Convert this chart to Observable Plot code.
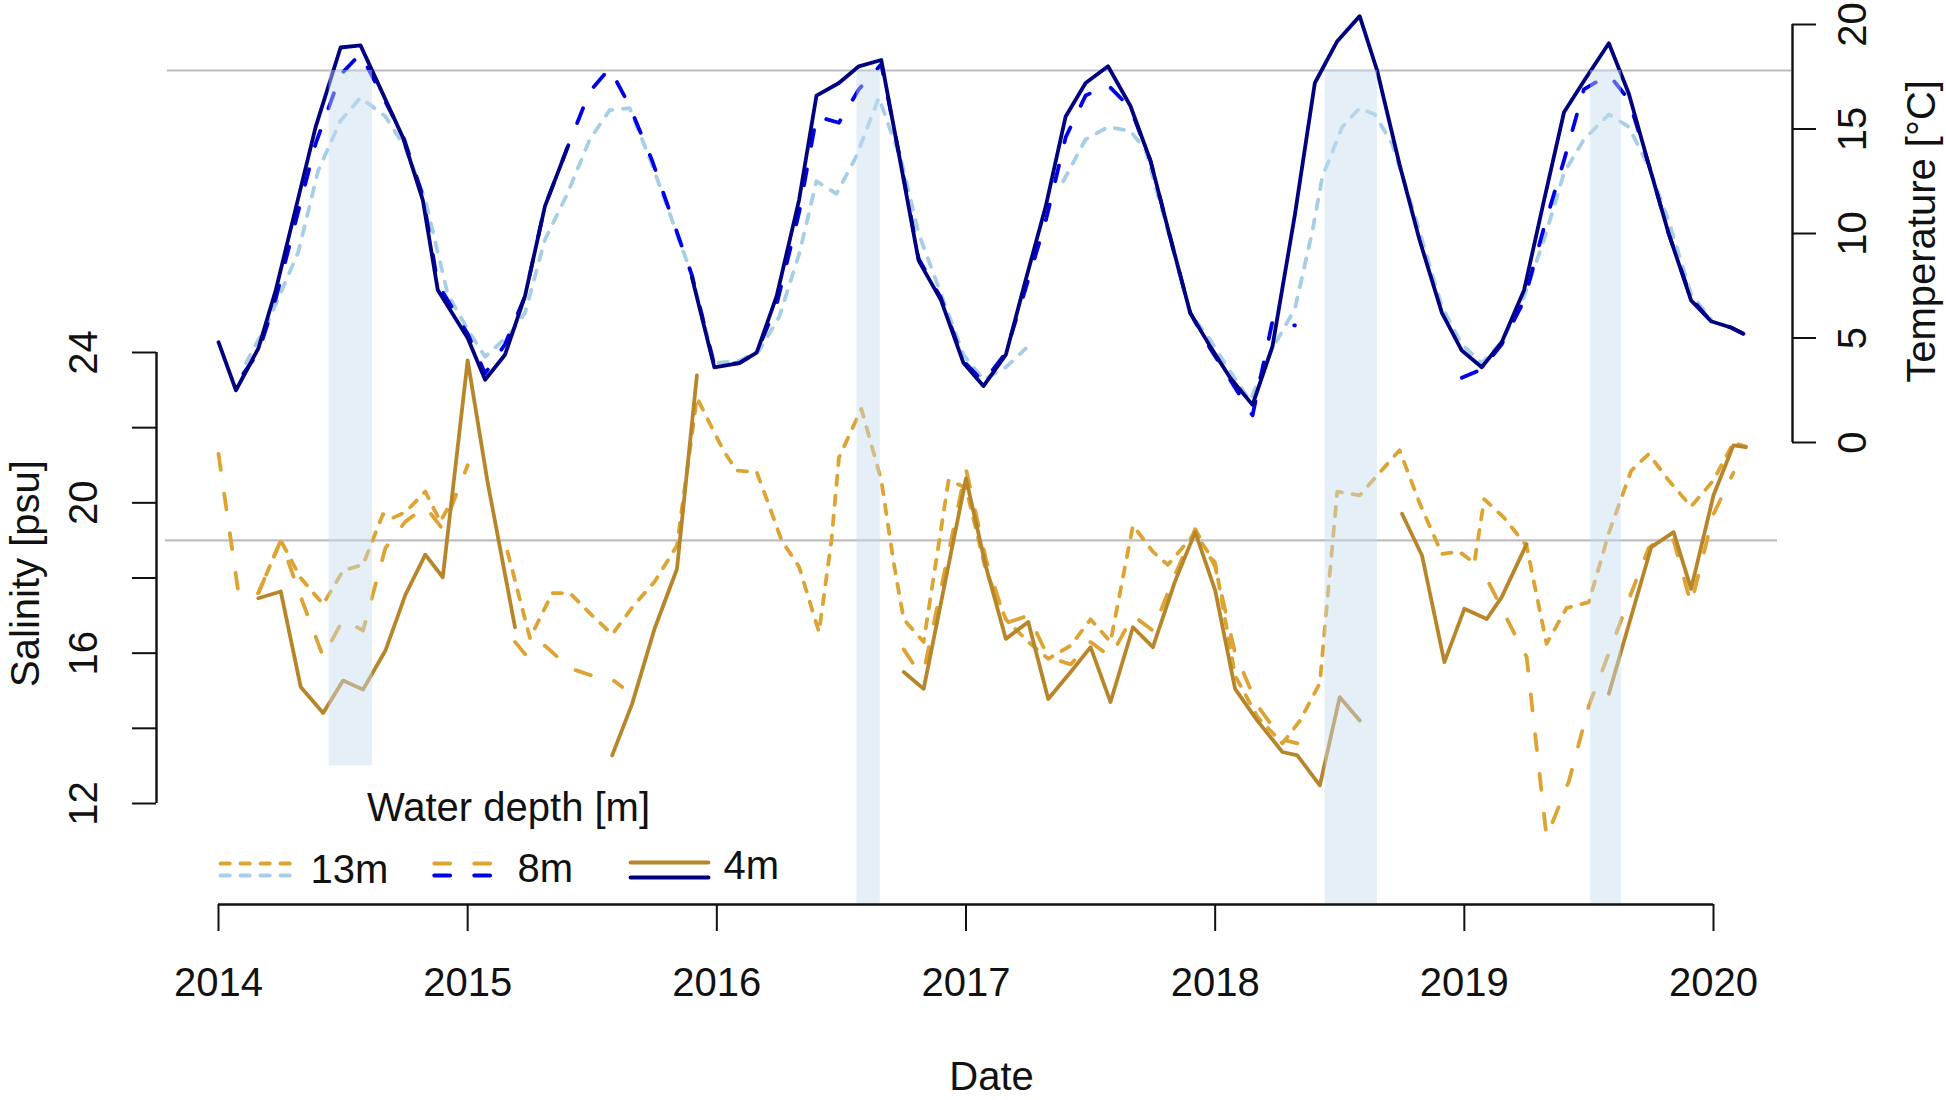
<!DOCTYPE html>
<html>
<head>
<meta charset="utf-8">
<script src="https://cdn.jsdelivr.net/npm/d3@7"></script>
<script src="https://cdn.jsdelivr.net/npm/@observablehq/plot@0.6"></script>
<style>
  html, body { margin: 0; padding: 0; background: #fff; }
</style>
</head>
<body>
<div id="chart"></div>
<script>
// ---------------- DATA ----------------
const years = [2014, 2015, 2016, 2017, 2018, 2019, 2020];
const salinityTicks = [12, 14, 16, 18, 20, 22, 24];
const salinityLabels = [12, 16, 20, 24];
const temperatureTicks = [0, 5, 10, 15, 20];
const depthLabels = ["13m", "8m", "4m"];

const salinityThreshold = 19;     // psu (grey line)
const temperatureThreshold = 17.8; // °C (grey line)

const bandStart = [2014.444, 2016.562, 2018.441, 2019.507];
const bandEnd   = [2014.618, 2016.656, 2018.651, 2019.630];
const bandBottomSalinity = [13, null, null, null];

// [decimal year, temperature °C]; null = gap
const temp4m = [
  [2014.00,4.8],[2014.07,2.5],[2014.16,4.5],[2014.23,7.3],[2014.31,11.2],[2014.39,15.1],[2014.49,18.9],[2014.57,19.0],
  [2014.74,14.6],[2014.82,11.6],[2014.88,7.3],[2015.00,5.0],[2015.07,3.0],[2015.15,4.2],[2015.23,7.0],[2015.31,11.3],[2015.40,14.1],
  [2015.65,null],
  [2015.90,7.9],[2015.99,3.6],[2016.09,3.8],[2016.16,4.3],[2016.24,7.0],[2016.33,11.6],[2016.40,16.6],[2016.49,17.2],[2016.57,18.0],
  [2016.66,18.3],[2016.74,13.2],[2016.81,8.7],[2016.90,6.8],[2016.99,3.8],[2017.07,2.7],[2017.16,4.2],[2017.24,7.8],[2017.32,11.3],
  [2017.40,15.6],[2017.48,17.2],[2017.57,18.0],[2017.66,16.1],[2017.74,13.5],[2017.82,9.8],[2017.90,6.2],[2017.98,4.6],[2018.06,3.1],
  [2018.15,1.8],[2018.23,4.6],[2018.32,10.9],[2018.40,17.2],[2018.49,19.2],[2018.58,20.4],[2018.65,17.8],[2018.74,13.3],[2018.82,9.7],
  [2018.91,6.2],[2018.99,4.4],[2019.07,3.6],[2019.15,4.8],[2019.24,7.3],[2019.32,11.6],[2019.40,15.8],[2019.48,17.3],[2019.58,19.1],
  [2019.66,16.7],[2019.74,13.3],[2019.82,10.0],[2019.91,6.8],[2019.99,5.8],[2020.07,5.5],[2020.12,5.2]
];
const temp8m = [
  [2014.10,3.3],[2014.16,4.3],[2014.23,6.9],[2014.31,10.6],[2014.39,14.3],[2014.49,17.6],[2014.57,18.6],[2014.74,14.7],
  [2014.82,11.8],[2014.88,7.6],[2015.00,5.2],[2015.07,3.3],[2015.15,4.7],[2015.23,7.0],[2015.31,11.3],[2015.40,14.1],[2015.49,16.8],
  [2015.57,17.9],[2015.65,16.1],[2015.74,13.5],[2015.90,8.0],[2015.99,3.7],[2016.09,3.8],[2016.16,4.3],[2016.24,6.6],[2016.33,11.0],
  [2016.40,15.6],[2016.49,15.3],[2016.57,16.9],[2016.66,18.1],[2016.74,13.3],[2016.81,8.8],[2016.90,6.9],[2016.99,3.9],[2017.07,2.9],
  [2017.16,4.3],[2017.24,7.4],[2017.32,10.6],[2017.40,14.6],[2017.48,16.6],[2017.57,17.1],[2017.66,16.0],[2017.74,13.5],[2017.82,9.8],
  [2017.90,6.2],[2017.98,4.5],[2018.06,3.0],[2018.15,1.3],[2018.23,5.8],[2018.32,5.6],
  [2018.60,null],
  [2018.99,3.1],[2019.07,3.5],[2019.15,4.7],[2019.24,6.8],[2019.32,10.3],[2019.40,13.5],[2019.48,16.9],[2019.58,17.6],[2019.66,16.4],
  [2019.74,13.3],[2019.82,10.0],[2019.91,6.9],[2019.99,5.8],[2020.07,5.5],[2020.12,5.2]
];
const temp13m = [
  [2014.11,3.8],[2014.20,5.8],[2014.32,9.1],[2014.40,13.0],[2014.49,15.4],[2014.57,16.5],[2014.67,15.6],[2014.75,14.1],[2014.83,11.6],
  [2014.92,7.1],[2015.00,5.4],[2015.07,4.1],[2015.17,5.2],[2015.23,6.2],[2015.31,9.7],[2015.40,11.9],[2015.49,14.5],[2015.57,15.9],
  [2015.65,16.0],[2015.74,13.3],[2015.90,8.0],[2015.99,3.8],[2016.09,3.9],[2016.17,4.4],[2016.25,6.0],[2016.33,9.0],[2016.40,12.5],
  [2016.48,11.9],[2016.56,13.7],[2016.65,16.5],[2016.74,13.5],[2016.81,10.0],[2016.90,7.1],[2016.99,4.2],[2017.07,3.0],[2017.16,3.6],
  [2017.24,4.5],
  [2017.32,null],
  [2017.39,12.5],[2017.48,14.5],[2017.57,15.1],[2017.66,14.9],[2017.72,14.0],[2017.82,9.7],[2017.90,6.2],[2017.98,4.9],[2018.06,3.4],
  [2018.14,2.0],[2018.23,4.5],[2018.32,6.4],[2018.39,10.1],[2018.43,12.7],[2018.51,15.1],[2018.58,16.0],[2018.64,15.7],[2018.71,14.3],
  [2018.79,11.3],[2018.91,6.5],[2018.99,4.7],[2019.07,3.8],[2019.15,4.8],[2019.24,7.0],[2019.32,9.7],[2019.40,12.9],[2019.48,14.5],
  [2019.58,15.7],[2019.66,15.1],[2019.74,13.2],[2019.82,10.6],[2019.91,7.1],[2019.99,5.9]
];

// [decimal year, salinity psu]; null = gap
const sal4m = [
  [2014.16,17.46],[2014.25,17.64],[2014.33,15.10],[2014.42,14.41],[2014.50,15.27],[2014.58,15.03],[2014.67,16.07],[2014.75,17.55],
  [2014.83,18.62],[2014.90,18.02],[2015.00,23.79],[2015.08,20.55],[2015.19,16.69],
  [2015.40,null],
  [2015.58,13.28],[2015.66,14.65],[2015.75,16.65],[2015.84,18.24],[2015.92,23.39],
  [2016.30,null],
  [2016.75,15.5],[2016.83,15.05],[2017.00,20.65],[2017.08,18.3],[2017.16,16.38],[2017.25,16.83],[2017.33,14.78],[2017.42,15.5],
  [2017.50,16.16],[2017.58,14.7],[2017.67,16.69],[2017.75,16.16],[2017.84,17.93],[2017.92,19.22],[2018.00,17.67],[2018.08,15.05],
  [2018.17,14.2],[2018.27,13.37],[2018.33,13.28],[2018.42,12.48],[2018.50,14.83],[2018.58,14.21],
  [2018.66,null],
  [2018.75,19.71],[2018.83,18.6],[2018.92,15.76],[2019.00,17.18],[2019.09,16.91],[2019.15,17.49],[2019.25,18.9],
  [2019.40,null],
  [2019.58,14.92],[2019.75,18.82],[2019.84,19.22],[2019.91,17.71],[2020.00,20.2],[2020.08,21.53],[2020.13,21.48]
];
const sal8m = [
  [2014.00,21.3],[2014.08,17.6],[2014.16,17.6],[2014.25,19.0],[2014.33,17.5],[2014.42,15.9],[2014.50,16.9],[2014.58,16.6],
  [2014.67,18.8],[2014.75,19.5],[2014.83,19.9],[2014.90,19.3],[2015.00,21.0],
  [2015.10,null],
  [2015.19,16.3],[2015.24,15.9],[2015.31,16.2],[2015.41,15.6],[2015.50,15.4],[2015.58,15.3],[2015.62,15.1],
  [2016.20,null],
  [2016.75,16.1],[2016.79,15.7],[2016.83,15.5],[2017.00,20.9],[2017.08,18.5],[2017.16,16.8],[2017.25,17.0],[2017.33,15.9],
  [2017.42,15.7],[2017.50,16.3],[2017.58,15.9],[2017.67,17.0],[2017.75,16.6],[2017.84,18.1],[2017.92,19.3],[2018.00,18.3],
  [2018.08,16.0],[2018.17,14.6],[2018.27,13.7],[2018.33,13.6],
  [2018.70,null],
  [2019.10,17.85],[2019.21,16.4],[2019.25,15.9],[2019.33,11.1],[2019.42,12.6],[2019.50,14.6],[2019.58,16.0],[2019.67,17.6],
  [2019.74,18.8],[2019.80,19.1],[2019.84,19.0],[2019.91,17.3],[2020.00,19.7],[2020.08,20.8]
];
const sal13m = [
  [2014.16,17.6],[2014.25,19.0],[2014.33,18.0],[2014.42,17.3],[2014.50,18.2],[2014.58,18.35],[2014.66,19.7],[2014.70,19.6],
  [2014.75,19.75],[2014.83,20.3],[2014.89,19.5],[2014.95,20.2],
  [2015.10,null],
  [2015.16,18.7],[2015.25,16.4],[2015.34,17.6],[2015.41,17.6],[2015.50,17.0],[2015.58,16.5],[2015.67,17.3],[2015.75,17.9],
  [2015.84,18.86],[2015.92,22.8],[2015.98,22.0],[2016.03,21.35],[2016.08,20.86],[2016.16,20.82],[2016.20,20.1],[2016.26,19.0],
  [2016.33,18.3],[2016.41,16.56],[2016.46,19.0],[2016.49,21.2],[2016.58,22.5],[2016.66,20.6],[2016.71,18.4],[2016.75,16.9],
  [2016.83,16.3],[2016.93,20.6],[2017.00,20.4],[2017.08,18.2],[2017.16,16.9],[2017.25,16.3],[2017.33,15.85],[2017.42,16.2],
  [2017.50,16.9],[2017.58,16.3],[2017.67,19.4],[2017.75,18.7],[2017.81,18.35],[2017.92,19.2],[2018.00,18.4],[2018.08,15.4],
  [2018.17,14.3],[2018.27,13.6],[2018.34,14.2],[2018.42,15.2],[2018.49,20.3],[2018.58,20.2],[2018.66,20.8],[2018.74,21.4],
  [2018.82,20.0],[2018.91,18.64],[2018.98,18.7],[2019.04,18.4],[2019.08,20.1],[2019.16,19.6],[2019.25,18.85],[2019.33,16.25],
  [2019.41,17.2],[2019.50,17.36],[2019.58,19.2],[2019.67,20.86],[2019.74,21.3],[2019.82,20.6],[2019.91,19.9],[2020.00,20.6],
  [2020.08,21.6],[2020.13,21.5]
];

// ---------------- LAYOUT ----------------
const W = 1946, H = 1100;
const xs = d3.scaleLinear([2014, 2020], [218, 1713]);   // pixel calibration of x
const ys = d3.scaleLinear([12, 24], [803, 352]);        // pixel calibration of salinity
// temperature axis (right) shares the plot: 0°C at y=442px, 20°C at y=24px
const tempToSal = d3.scaleLinear([0, 20], [ys.invert(442), ys.invert(24)]);
const axisBottomPx = 904, leftAxisPx = 156, rightAxisPx = 1792;
const salAtAxis = ys.invert(axisBottomPx);

const C = {
  sal13: "#DDA434", sal8: "#DDA434", sal4: "#B8862A",
  t13: "#A6CFE6", t8: "#0000E8", t4: "#000080",
  grey: "#BEBEBE", band: "#C6DBEF", ink: "#111"
};
const LW = 3.8;
const dash13 = "9.3,10.7";
const dash8 = "16,24";
const FONT = "'Liberation Sans', Arial, Helvetica, sans-serif";

const tY = d => d[1] == null ? NaN : tempToSal(d[1]);
const sY = d => d[1] == null ? NaN : d[1];
const X = d => d[0];
const lineOpts = {strokeLinecap: "round", strokeLinejoin: "round", strokeWidth: LW};

// legend layout (pixels)
const legendSwatches = [
  {x1: 220, x2: 291, top: C.sal13, bottom: C.t13, dash: dash13, yTop: 863, yBot: 875},
  {x1: 433.7, x2: 491.3, top: C.sal8, bottom: C.t8, dash: dash8, yTop: 863, yBot: 875},
  {x1: 630, x2: 708, top: C.sal4, bottom: C.t4, dash: null, yTop: 862, yBot: 877}
];
const legendTextX = [310, 517, 723];
const legendTextY = [870, 869, 866];

const swatchLinks = [];
legendSwatches.forEach(s => {
  swatchLinks.push({x1: s.x1, x2: s.x2, y: s.yTop, stroke: s.top, dash: s.dash});
  swatchLinks.push({x1: s.x1, x2: s.x2, y: s.yBot, stroke: s.bottom, dash: s.dash});
});

const bandIdx = bandStart.map((_, i) => i);

const chart = Plot.plot({
  width: W, height: H,
  marginLeft: leftAxisPx - 1, marginRight: W - rightAxisPx, marginTop: 0, marginBottom: H - axisBottomPx,
  x: {domain: xs.domain(), range: xs.range(), axis: null, label: null},
  y: {domain: ys.domain(), range: ys.range(), axis: null, label: null},
  style: {fontFamily: FONT, fontSize: "40px", background: "#fff", color: C.ink, overflow: "visible"},
  marks: [
    // threshold lines
    Plot.ruleY([salinityThreshold], {x1: xs.invert(165), x2: xs.invert(1777), stroke: C.grey, strokeWidth: 2.2}),
    Plot.ruleY([temperatureThreshold], {y: d => tempToSal(d), x1: xs.invert(167), x2: xs.invert(1791), stroke: C.grey, strokeWidth: 2.2}),

    // salinity
    Plot.line(sal13m, {x: X, y: sY, stroke: C.sal13, strokeDasharray: dash13, ...lineOpts}),
    Plot.line(sal8m, {x: X, y: sY, stroke: C.sal8, strokeDasharray: dash8, ...lineOpts}),
    Plot.line(sal4m, {x: X, y: sY, stroke: C.sal4, ...lineOpts}),

    // temperature
    Plot.line(temp13m, {x: X, y: tY, stroke: C.t13, strokeDasharray: dash13, ...lineOpts}),
    Plot.line(temp8m, {x: X, y: tY, stroke: C.t8, strokeDasharray: dash8, ...lineOpts}),
    Plot.line(temp4m, {x: X, y: tY, stroke: C.t4, ...lineOpts}),

    // shaded periods
    Plot.rect(bandIdx, {
      x1: i => bandStart[i], x2: i => bandEnd[i],
      y1: i => bandBottomSalinity[i] ?? salAtAxis,
      y2: () => tempToSal(temperatureThreshold),
      fill: C.band, fillOpacity: 0.45
    }),

    // x axis
    Plot.ruleY([salAtAxis], {x1: years[0], x2: years[years.length - 1], stroke: C.ink, strokeWidth: 2.4}),
    Plot.axisX({anchor: "bottom", ticks: years, tickSize: 27, tickPadding: 36, tickFormat: d => String(d),
      fontSize: 40, stroke: C.ink, strokeWidth: 2, fill: C.ink, label: null}),
    Plot.text(["Date"], {x: () => xs.invert(991), frameAnchor: "bottom", dy: 185, text: d => d, fontSize: 40, fill: C.ink}),

    // left salinity axis
    Plot.ruleX([xs.invert(leftAxisPx)], {y1: salinityTicks[0], y2: salinityTicks[salinityTicks.length - 1], stroke: C.ink, strokeWidth: 2.4}),
    Plot.ruleY(salinityTicks, {x1: xs.invert(leftAxisPx - 24), x2: xs.invert(leftAxisPx), stroke: C.ink, strokeWidth: 2}),
    Plot.text(salinityLabels, {y: d => d, frameAnchor: "left", dx: -71, rotate: -90, text: d => String(d),
      fontSize: 40, textAnchor: "middle", lineAnchor: "middle", fill: C.ink}),
    Plot.text(["Salinity [psu]"], {y: () => ys.invert(573), frameAnchor: "left", dx: -129, rotate: -90, text: d => d,
      fontSize: 40, textAnchor: "middle", lineAnchor: "middle", fill: C.ink}),

    // right temperature axis
    Plot.ruleX([xs.invert(rightAxisPx)], {y1: tempToSal(temperatureTicks[0]), y2: tempToSal(temperatureTicks[temperatureTicks.length - 1]), stroke: C.ink, strokeWidth: 2.4}),
    Plot.ruleY(temperatureTicks, {y: d => tempToSal(d), x1: xs.invert(rightAxisPx), x2: xs.invert(rightAxisPx + 24), stroke: C.ink, strokeWidth: 2}),
    Plot.text(temperatureTicks, {y: d => tempToSal(d), frameAnchor: "right", dx: 61, rotate: -90, text: d => String(d),
      fontSize: 40, textAnchor: "middle", lineAnchor: "middle", fill: C.ink}),
    Plot.text(["Temperature [°C]"], {y: () => tempToSal(10.1), frameAnchor: "right", dx: 130, rotate: -90, text: d => d,
      fontSize: 40, textAnchor: "middle", lineAnchor: "middle", fill: C.ink}),

    // legend
    Plot.text(["Water depth [m]"], {x: () => xs.invert(508), y: () => ys.invert(808), text: d => d, fontSize: 40,
      textAnchor: "middle", lineAnchor: "middle", fill: C.ink}),
    Plot.link(swatchLinks.filter(s => s.dash === dash13), {x1: s => xs.invert(s.x1), x2: s => xs.invert(s.x2),
      y1: s => ys.invert(s.y), y2: s => ys.invert(s.y), stroke: s => s.stroke, strokeDasharray: dash13, ...lineOpts}),
    Plot.link(swatchLinks.filter(s => s.dash === dash8), {x1: s => xs.invert(s.x1), x2: s => xs.invert(s.x2),
      y1: s => ys.invert(s.y), y2: s => ys.invert(s.y), stroke: s => s.stroke, strokeDasharray: dash8, ...lineOpts}),
    Plot.link(swatchLinks.filter(s => s.dash === null), {x1: s => xs.invert(s.x1), x2: s => xs.invert(s.x2),
      y1: s => ys.invert(s.y), y2: s => ys.invert(s.y), stroke: s => s.stroke, ...lineOpts}),
    Plot.text(depthLabels, {x: (d, i) => xs.invert(legendTextX[i]), y: (d, i) => ys.invert(legendTextY[i]), text: d => d,
      fontSize: 40, textAnchor: "start", lineAnchor: "middle", fill: C.ink})
  ]
});

document.getElementById("chart").appendChild(chart);
</script>
</body>
</html>
